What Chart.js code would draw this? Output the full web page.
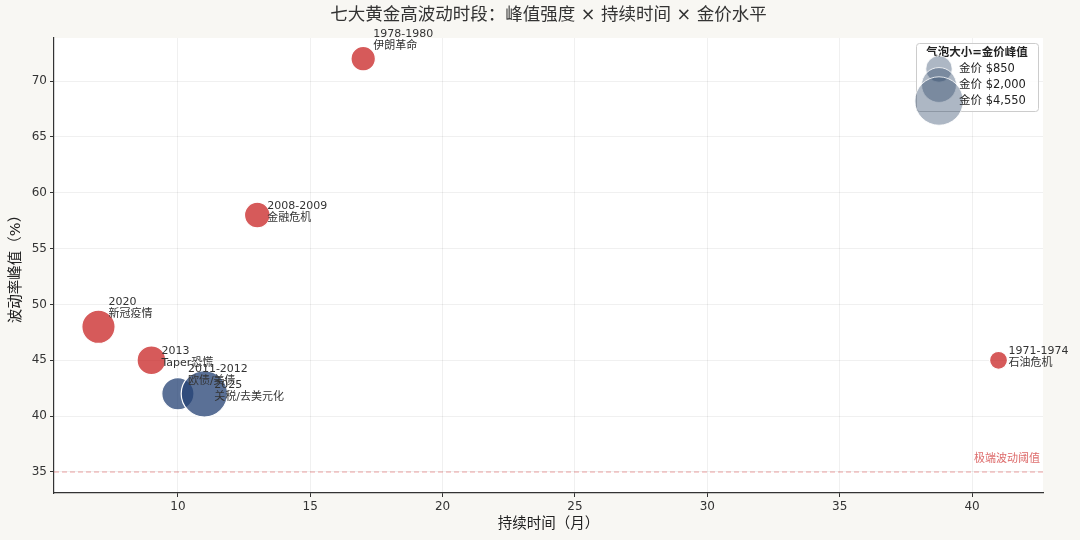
<!DOCTYPE html>
<html>
<head>
<meta charset="utf-8">
<script src="https://cdn.jsdelivr.net/npm/chart.js@4"></script>
<style>
  html, body { margin: 0; background: #f8f7f3; }
  #wrap { width: 1080px; height: 540px; }
</style>
</head>
<body>
<div id="wrap"><canvas id="chart"></canvas></div>
<script>
// 七个时段
const periods = ['1971-1974', '1978-1980', '2008-2009', '2011-2012', '2013', '2020', '2025'];
const events = ['石油危机', '伊朗革命', '金融危机', '欧债/美债', 'Taper恐慌', '新冠疫情', '关税/去美元化'];
const durationMonths = [41, 17, 13, 10, 9, 7, 11];
const volPeak = [45, 72, 58, 42, 45, 48, 42];
const goldPeak = [195, 850, 1000, 1900, 1400, 2070, 4550];
const regime = ['shock', 'shock', 'shock', 'policy', 'shock', 'shock', 'policy'];

const legendPrices = [850, 2000, 4550];
const xTicks = [10, 15, 20, 25, 30, 35, 40];
const yTicks = [35, 40, 45, 50, 55, 60, 65, 70];
const threshold = 35;

const FONT = '"DejaVu Sans", "Noto Sans CJK SC", sans-serif';
const colors = { shock: 'rgba(200, 35, 35, 0.75)', policy: 'rgba(35, 64, 115, 0.75)' };
const radius = p => Math.sqrt(60 + 0.105 * p);
// labels that sit higher above their bubble
const lifted = { '1978-1980': true, '2020': true, '2011-2012': true };

const points = periods.map((p, i) => ({ x: durationMonths[i], y: volPeak[i], r: radius(goldPeak[i]) }));

const decor = {
  id: 'decor',
  beforeDraw(chart) {
    const { ctx, chartArea: a } = chart;
    ctx.save();
    ctx.fillStyle = '#f8f7f3';
    ctx.fillRect(0, 0, chart.width, chart.height);
    ctx.fillStyle = '#ffffff';
    ctx.fillRect(a.left, a.top, a.right - a.left, a.bottom - a.top);
    ctx.restore();
  },
  beforeDatasetsDraw(chart) {
    const { ctx, chartArea: a, scales } = chart;
    const y = scales.y.getPixelForValue(threshold);
    ctx.save();
    ctx.strokeStyle = 'rgba(220, 90, 90, 0.55)';
    ctx.lineWidth = 1;
    ctx.setLineDash([5, 3]);
    ctx.beginPath();
    ctx.moveTo(a.left, y);
    ctx.lineTo(a.right, y);
    ctx.stroke();
    ctx.setLineDash([]);
    ctx.fillStyle = 'rgba(215, 80, 80, 0.85)';
    ctx.font = '11px ' + FONT;
    ctx.textAlign = 'right';
    ctx.textBaseline = 'middle';
    ctx.fillText('极端波动阈值', a.right - 3, y - 13);
    ctx.restore();
  },
  afterDatasetsDraw(chart) {
    const { ctx, scales } = chart;
    ctx.save();
    ctx.font = '11px ' + FONT;
    ctx.fillStyle = '#333';
    ctx.textAlign = 'left';
    ctx.textBaseline = 'middle';
    periods.forEach((p, i) => {
      const cx = scales.x.getPixelForValue(durationMonths[i]);
      const cy = scales.y.getPixelForValue(volPeak[i]);
      const top = lifted[p] ? cy - 25 : cy - 9;
      ctx.fillText(p, cx + 10, top);
      ctx.fillText(events[i], cx + 10, top + 12);
    });
    ctx.restore();
  },
  afterDraw(chart) {
    const { ctx, chartArea: a } = chart;
    const bx = a.right - 127, by = a.top + 5, bw = 122, bh = 68;
    ctx.save();
    ctx.fillStyle = 'rgba(255,255,255,0.85)';
    ctx.strokeStyle = '#cccccc';
    ctx.lineWidth = 1;
    ctx.beginPath();
    ctx.roundRect(bx + 0.5, by + 0.5, bw, bh, 3);
    ctx.fill();
    ctx.stroke();
    ctx.fillStyle = '#222';
    ctx.font = 'bold 11.5px ' + FONT;
    ctx.textAlign = 'center';
    ctx.textBaseline = 'middle';
    ctx.fillText('气泡大小=金价峰值', bx + bw / 2, by + 10);
    legendPrices.forEach((p, i) => {
      const cy = by + 26 + i * 16;
      const r = radius(p) + 1;
      ctx.fillStyle = 'rgba(40, 65, 100, 0.38)';
      ctx.strokeStyle = 'rgba(255,255,255,0.8)';
      ctx.beginPath();
      ctx.arc(bx + 23, cy, r, 0, Math.PI * 2);
      ctx.fill();
      ctx.stroke();
    });
    ctx.fillStyle = '#222';
    ctx.font = '11.5px ' + FONT;
    ctx.textAlign = 'left';
    legendPrices.forEach((p, i) => {
      const cy = by + 26 + i * 16;
      ctx.fillText('金价 $' + p.toLocaleString('en-US'), bx + 43, cy);
    });
    ctx.restore();
  }
};

new Chart(document.getElementById('chart'), {
  type: 'bubble',
  data: {
    datasets: [{
      data: points,
      backgroundColor: regime.map(g => colors[g]),
      hoverBackgroundColor: regime.map(g => colors[g]),
      borderColor: '#ffffff',
      borderWidth: 1.2,
      hoverBorderWidth: 1.2
    }]
  },
  options: {
    responsive: true,
    maintainAspectRatio: false,
    animation: false,
    events: [],
    layout: { padding: { top: 0, right: 37, bottom: 0, left: 0 } },
    plugins: {
      legend: { display: false },
      tooltip: { enabled: false },
      title: {
        display: true,
        fullSize: false,
        text: '七大黄金高波动时段：峰值强度 × 持续时间 × 金价水平',
        color: '#333',
        font: { family: FONT, size: 17.5, weight: 'normal' },
        padding: { top: 5, bottom: 12 }
      }
    },
    scales: {
      x: {
        type: 'linear',
        min: 5.32,
        max: 42.68,
        afterBuildTicks: s => { s.ticks = xTicks.map(v => ({ value: v })); },
        afterFit: s => { s.height = 47; },
        border: { display: true, color: '#333', width: 1.2 },
        grid: { color: 'rgba(0,0,0,0.06)', tickColor: '#333', tickLength: 4 },
        ticks: { color: '#333', font: { family: FONT, size: 12 }, padding: 3 },
        title: {
          display: true,
          text: '持续时间（月）',
          color: '#222',
          font: { family: FONT, size: 14.5 },
          padding: { top: 0, bottom: 7 }
        }
      },
      y: {
        type: 'linear',
        min: 33.12,
        max: 73.85,
        afterBuildTicks: s => { s.ticks = yTicks.map(v => ({ value: v })); },
        afterFit: s => { s.width = 54; },
        border: { display: true, color: '#333', width: 1.2 },
        grid: { color: 'rgba(0,0,0,0.06)', tickColor: '#333', tickLength: 4 },
        ticks: { color: '#333', font: { family: FONT, size: 12 }, padding: 3 },
        title: {
          display: true,
          text: '波动率峰值（%）',
          color: '#222',
          font: { family: FONT, size: 14.5 },
          padding: { top: 8, bottom: 0 }
        }
      }
    }
  },
  plugins: [decor]
});
</script>
</body>
</html>
